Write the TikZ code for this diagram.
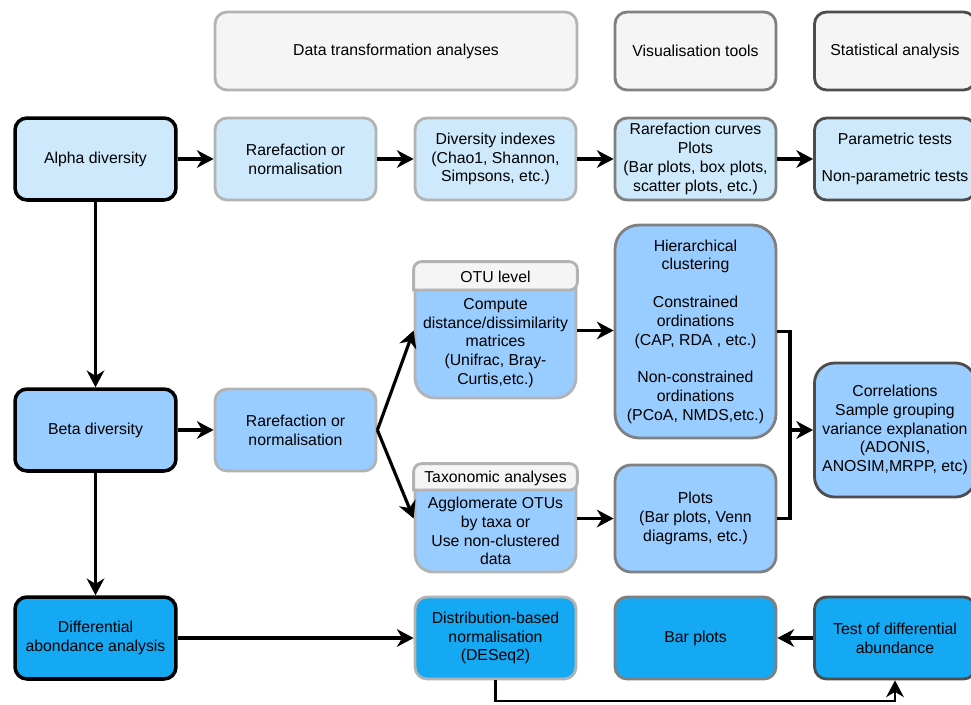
\documentclass[tikz,border=0pt]{standalone}
\usepackage{fontspec}
\setmainfont{Liberation Sans}
\usetikzlibrary{arrows.meta}

\definecolor{alphafill}{HTML}{CDE9FB}
\definecolor{betafill}{HTML}{99CCFF}
\definecolor{difffill}{HTML}{14A9F2}
\definecolor{headfill}{HTML}{F5F5F5}
\definecolor{lightline}{HTML}{B3B3B3}
\definecolor{midline}{HTML}{808080}
\definecolor{darkline}{HTML}{4D4D4D}

\begin{document}
\begin{tikzpicture}[x=0.02cm,y=-0.02cm,
        box/.style={rectangle,draw,line width=1.6pt,rounded corners=0.24cm,
            minimum width=3.22cm,minimum height=1.64cm,align=center,inner sep=1pt,
            font=\fontsize{9}{10.7}\selectfont},
        main/.style={box,draw=black,line width=2pt},
        pale/.style={box,draw=lightline},
        mid/.style={box,draw=midline},
        dark/.style={box,draw=darkline},
        band/.style={draw=lightline,fill=headfill,line width=1.6pt},
        txt/.style={align=center,inner sep=1pt,font=\fontsize{9}{10.7}\selectfont},
        flow/.style={line width=1.8pt,-{Stealth[length=9.5pt,width=10pt,inset=3pt]}},
        link/.style={line width=1.8pt}]

    \useasboundingbox (0,0) rectangle (971,704);

    % Column headers
    \node[pale,fill=headfill,minimum width=7.24cm,minimum height=1.56cm] (hdata) at (396,51) {Data transformation analyses};
    \node[mid,fill=headfill,minimum height=1.56cm] (hvis) at (695.5,51) {Visualisation tools};
    \node[dark,fill=headfill,minimum height=1.56cm] (hstat) at (895,51) {Statistical analysis};

    % Alpha diversity
    \node[main,fill=alphafill] (alpha) at (95.5,159) {Alpha diversity};
    \node[pale,fill=alphafill] (rare1) at (295.5,159) {Rarefaction or\\normalisation};
    \node[pale,fill=alphafill] (divx) at (495.5,159) {Diversity indexes\\(Chao1, Shannon,\\Simpsons, etc.)};
    \node[mid,fill=alphafill] (curves) at (695.5,159) {Rarefaction curves\\Plots\\(Bar plots, box plots,\\scatter plots, etc.)};
    \node[dark,fill=alphafill] (param) at (895,159) {Parametric tests\\[10pt]Non-parametric tests};

    % Beta diversity
    \node[main,fill=betafill] (beta) at (95.5,430) {Beta diversity};
    \node[pale,fill=betafill] (rare2) at (295.5,430) {Rarefaction or\\normalisation};

    \node[pale,fill=betafill,minimum height=2.7cm,rounded corners=0.4cm] (otu) at (495.5,330.5) {};
    \coordinate (otusplit) at (495.5,290);
    \filldraw[band] (otu.west |- otusplit) [rounded corners=0.16cm] |- (otu.north) -| (otu.east |- otusplit) [sharp corners] -- cycle;
    \node[txt] (otutitle) at (495.5,277) {OTU level};
    \node[txt] (otutext) at (495.5,343) {Compute\\distance/dissimilarity\\matrices\\(Unifrac, Bray-\\Curtis,etc.)};

    \node[pale,fill=betafill,minimum height=2.14cm,rounded corners=0.36cm] (tax) at (495.5,518.5) {};
    \coordinate (taxsplit) at (495.5,490);
    \filldraw[band] (tax.west |- taxsplit) [rounded corners=0.16cm] |- (tax.north) -| (tax.east |- taxsplit) [sharp corners] -- cycle;
    \node[txt] (taxtitle) at (495.5,478) {Taxonomic analyses};
    \node[txt] (taxtext) at (495.5,531) {Agglomerate OTUs\\by taxa or\\Use non-clustered\\data};

    \node[mid,fill=betafill,minimum height=4.26cm,rounded corners=0.48cm] (hier) at (695.5,331.5)
        {Hierarchical\\clustering\\[10.7pt]Constrained\\ordinations\\(CAP, RDA , etc.)\\[10.7pt]Non-constrained\\ordinations\\(PCoA, NMDS,etc.)};
    \node[mid,fill=betafill,minimum height=2.14cm,rounded corners=0.32cm] (plots) at (695.5,518.5) {Plots\\(Bar plots, Venn\\diagrams, etc.)};
    \node[dark,fill=betafill,minimum height=2.68cm,rounded corners=0.4cm] (corr) at (895,430)
        {Correlations\\Sample grouping\\variance explanation\\(ADONIS,\\ANOSIM,MRPP, etc)};

    % Differential abundance
    \node[main,fill=difffill] (diff) at (95.5,638) {Differential\\abondance analysis};
    \node[pale,fill=difffill] (distr) at (495.5,638) {Distribution-based\\normalisation\\(DESeq2)};
    \node[mid,fill=difffill] (barp) at (695.5,638) {Bar plots};
    \node[dark,fill=difffill] (testd) at (895,638) {Test of differential\\abundance};

    % Edges
    \draw[flow] (alpha) -- (rare1);
    \draw[flow] (rare1) -- (divx);
    \draw[flow] (divx) -- (curves);
    \draw[flow] (curves) -- (param);
    \draw[flow] (alpha) -- (beta);
    \draw[flow] (beta) -- (diff);
    \draw[flow] (beta) -- (rare2);
    \draw[flow] (rare2.east) -- (otu.west);
    \draw[flow] (rare2.east) -- (tax.west);
    \draw[flow] (otu.east) -- (otu.east -| hier.west);
    \draw[flow] (tax.east) -- (tax.east -| plots.west);
    \coordinate (joint) at (790,430);
    \draw[link] (hier.east) -| (joint) |- (plots.east);
    \draw[flow] (joint) -- (corr.west);
    \draw[flow] (diff) -- (distr);
    \draw[flow] (testd) -- (barp);
    \coordinate (lowline) at (695.5,701);
    \draw[flow,line width=1.4pt] (distr.south) |- (lowline) -| (testd.south);
\end{tikzpicture}
\end{document}
